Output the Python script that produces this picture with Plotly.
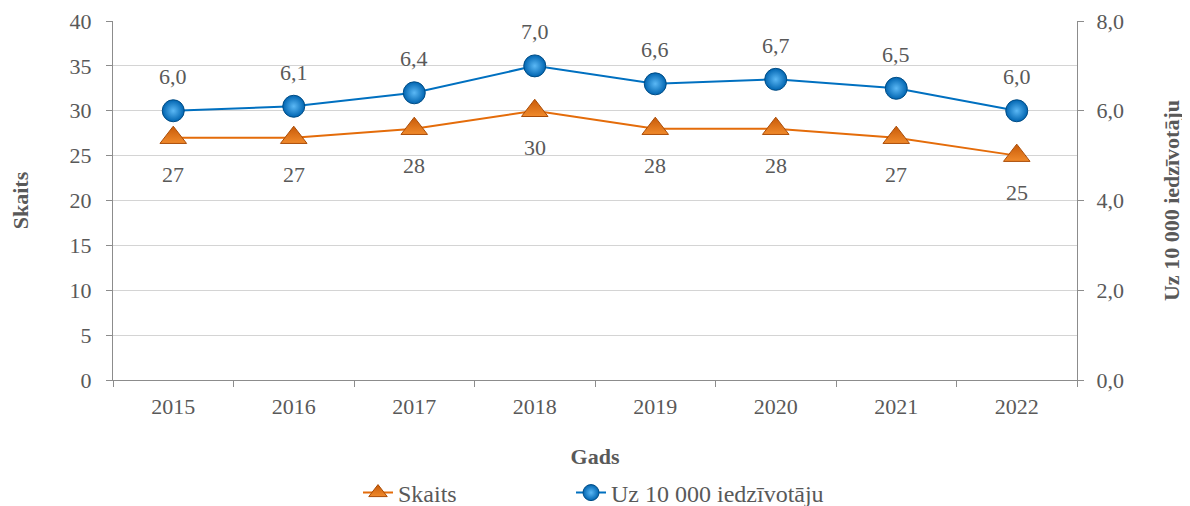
import plotly.graph_objects as go

years = ["2015", "2016", "2017", "2018", "2019", "2020", "2021", "2022"]
skaits = [27, 27, 28, 30, 28, 28, 27, 25]
uz_10000 = [6.0, 6.1, 6.4, 7.0, 6.6, 6.7, 6.5, 6.0]

font_name = "'Liberation Serif', 'DejaVu Serif', serif"
grey = "#595959"
axis_col = "#8c8c8c"
fsize = 22

fig = go.Figure()

fig.add_trace(go.Scatter(
    x=years, y=skaits, name="Skaits", mode="lines+markers", legend="legend",
    line=dict(color="#E46C0A", width=2),
    marker=dict(symbol="triangle-up", size=23, color="#C85A08",
                gradient=dict(type="vertical", color="#F08A2C"),
                line=dict(color="#A94B06", width=1)),
))

fig.add_trace(go.Scatter(
    x=years, y=uz_10000, name="Uz 10 000 iedzīvotāju", mode="lines+markers",
    yaxis="y2", legend="legend2",
    line=dict(color="#0070C0", width=2),
    marker=dict(symbol="circle", size=22, color="#0064B0",
                gradient=dict(type="radial", color="#5BB8F5"),
                line=dict(color="#004C85", width=1)),
))

# data labels (category index positions)
for i, v in enumerate(skaits):
    fig.add_annotation(x=i, y=v, xref="x", yref="y", text=str(v), showarrow=False,
                       yshift=-37, font=dict(family=font_name, size=fsize, color=grey))
for i, v in enumerate(uz_10000):
    fig.add_annotation(x=i, y=v, xref="x", yref="y2", text=f"{v:.1f}".replace(".", ","),
                       showarrow=False, yshift=34,
                       font=dict(family=font_name, size=fsize, color=grey))

leg_common = dict(orientation="h", xanchor="left", xref="container", y=21 / 506,
                  yanchor="middle", yref="container",
                  font=dict(family=font_name, size=24, color=grey))

# page body adds 8px offset, so margins are shifted up/left by 8px
fig.update_layout(
    width=1190, height=506,
    margin=dict(l=105, r=121, t=13, b=134, autoexpand=False),
    paper_bgcolor="white", plot_bgcolor="white",
    font=dict(family=font_name, size=fsize, color=grey),
    separators=", ",
    showlegend=True,
    legend=dict(x=350 / 1190, **leg_common),
    legend2=dict(x=563 / 1190, **leg_common),
    xaxis=dict(type="category", range=[-0.5, len(years) - 0.5],
               showline=True, linecolor=axis_col, linewidth=1,
               ticks="outside", tickson="boundaries", ticklen=6, tickcolor=axis_col,
               ticklabelstandoff=7,
               showgrid=False, automargin=False, tickfont=dict(size=fsize, color=grey),
               title=dict(text="<b>Gads</b>", font=dict(size=fsize, color=grey), standoff=30)),
    yaxis=dict(range=[0, 40], dtick=5, showline=True, linecolor=axis_col, linewidth=1,
               ticks="outside", ticklen=6, tickcolor=axis_col, automargin=False,
               ticklabelstandoff=10,
               showgrid=True, gridcolor="#d4d4d4", gridwidth=1, zeroline=False,
               tickfont=dict(size=fsize, color=grey),
               title=dict(text="<b>Skaits</b>", font=dict(size=fsize, color=grey), standoff=38)),
    yaxis2=dict(range=[0, 8], dtick=2, tickformat=".1f", overlaying="y", side="right",
                showline=True, linecolor=axis_col, linewidth=1, automargin=False,
                ticks="outside", ticklen=6, tickcolor=axis_col, ticklabelstandoff=8,
                showgrid=False, zeroline=False, tickfont=dict(size=fsize, color=grey),
                title=dict(text="<b>Uz 10 000 iedzīvotāju</b>", font=dict(size=fsize, color=grey),
                           standoff=40)),
)

fig.write_html("out.html")
